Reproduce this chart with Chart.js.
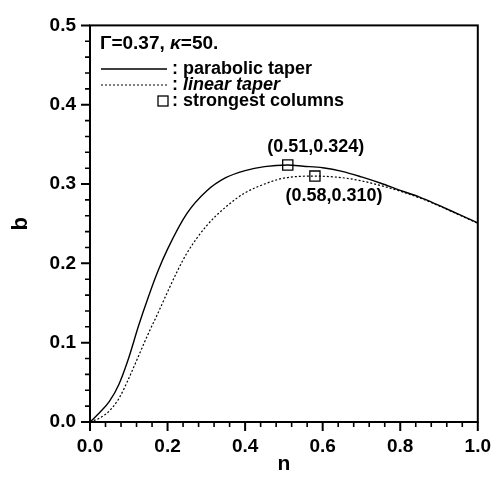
<!DOCTYPE html>
<html>
<head>
<meta charset="utf-8">
<script src="https://cdn.jsdelivr.net/npm/chart.js@4.4.1/dist/chart.umd.min.js"></script>
<style>
  html, body { margin: 0; padding: 0; background: #fff; }
  #wrap { width: 504px; height: 481px; position: relative; }
</style>
</head>
<body>
<div id="wrap"><canvas id="c" width="504" height="481"></canvas></div>
<script>
// ---- data ----
const nParabolic = [0, 0.025, 0.05, 0.075, 0.1, 0.125, 0.15, 0.175, 0.2, 0.25, 0.3, 0.35, 0.4, 0.45, 0.51, 0.55, 0.6, 0.65, 0.7, 0.75, 0.8, 0.85, 0.9, 0.95, 1.0];
const bParabolic = [0, 0.012, 0.026, 0.048, 0.081, 0.121, 0.157, 0.19, 0.218, 0.263, 0.291, 0.308, 0.317, 0.322, 0.324, 0.3225, 0.3205, 0.316, 0.309, 0.301, 0.292, 0.2835, 0.273, 0.262, 0.251];
const nLinear = [0, 0.025, 0.05, 0.075, 0.1, 0.125, 0.15, 0.175, 0.2, 0.225, 0.25, 0.3, 0.35, 0.4, 0.45, 0.5, 0.58, 0.65, 0.7, 0.75, 0.8, 0.85, 0.9, 0.95, 1.0];
const bLinear = [0, 0.005, 0.014, 0.030, 0.055, 0.083, 0.111, 0.137, 0.164, 0.19, 0.213, 0.247, 0.271, 0.289, 0.300, 0.3075, 0.310, 0.308, 0.304, 0.298, 0.291, 0.2825, 0.2725, 0.2615, 0.2505];
const nStrongest = [0.51, 0.58];
const bStrongest = [0.324, 0.310];
const strongestLabels = ['(0.51,0.324)', '(0.58,0.310)'];
const xMajorTicks = [0, 0.2, 0.4, 0.6, 0.8, 1.0];
const xMinorTicks = [0.04, 0.08, 0.12, 0.16, 0.24, 0.28, 0.32, 0.36, 0.44, 0.48, 0.52, 0.56, 0.64, 0.68, 0.72, 0.76, 0.84, 0.88, 0.92, 0.96];
const yMajorTicks = [0, 0.1, 0.2, 0.3, 0.4, 0.5];
const yMinorTicks = [0.02, 0.04, 0.06, 0.08, 0.12, 0.14, 0.16, 0.18, 0.22, 0.24, 0.26, 0.28, 0.32, 0.34, 0.36, 0.38, 0.42, 0.44, 0.46, 0.48];
const legendTitle = ['Γ=0.37, ', 'κ', '=50.'];
const legendLabels = [': parabolic taper', ': linear taper', ': strongest columns'];

const FONT = '"Liberation Sans", Arial, Helvetica, sans-serif';
const zip = (xs, ys) => xs.map((x, i) => ({ x, y: ys[i] }));

const framePlugin = {
  id: 'frame',
  afterDraw(chart) {
    const { ctx, chartArea: a, scales: { x, y } } = chart;
    ctx.save();
    ctx.strokeStyle = '#000';
    ctx.lineWidth = 2;
    ctx.strokeRect(a.left, a.top, a.right - a.left, a.bottom - a.top);
    ctx.beginPath();
    xMajorTicks.forEach(v => { const p = x.getPixelForValue(v); ctx.moveTo(p, a.bottom); ctx.lineTo(p, a.bottom + 9); });
    yMajorTicks.forEach(v => { const p = y.getPixelForValue(v); ctx.moveTo(a.left, p); ctx.lineTo(a.left - 9, p); });
    ctx.stroke();
    ctx.lineWidth = 1.6;
    ctx.beginPath();
    xMinorTicks.forEach(v => { const p = x.getPixelForValue(v); ctx.moveTo(p, a.bottom); ctx.lineTo(p, a.bottom + 5); });
    yMinorTicks.forEach(v => { const p = y.getPixelForValue(v); ctx.moveTo(a.left, p); ctx.lineTo(a.left - 5, p); });
    ctx.stroke();

    // point annotations
    ctx.fillStyle = '#000';
    ctx.font = 'bold 18px ' + FONT;
    ctx.textAlign = 'center';
    const p0x = x.getPixelForValue(nStrongest[0]), p0y = y.getPixelForValue(bStrongest[0]);
    ctx.textBaseline = 'alphabetic';
    ctx.fillText(strongestLabels[0], p0x + 28, p0y - 13);
    const p1x = x.getPixelForValue(nStrongest[1]), p1y = y.getPixelForValue(bStrongest[1]);
    ctx.textBaseline = 'top';
    ctx.fillText(strongestLabels[1], p1x + 19, p1y + 11);

    // legend
    const LF = 18;
    ctx.textAlign = 'left';
    ctx.textBaseline = 'middle';
    let tx = 100;
    const ty = 44;
    ctx.font = 'bold 19px ' + FONT;
    ctx.fillText(legendTitle[0], tx, ty); tx += ctx.measureText(legendTitle[0]).width;
    ctx.font = 'italic bold 19px ' + FONT;
    ctx.fillText(legendTitle[1], tx, ty); tx += ctx.measureText(legendTitle[1]).width;
    ctx.font = 'bold 19px ' + FONT;
    ctx.fillText(legendTitle[2], tx, ty);

    const rows = [69, 85, 101];
    ctx.lineWidth = 1.3;
    ctx.beginPath(); ctx.moveTo(101, rows[0]); ctx.lineTo(167, rows[0]); ctx.stroke();
    ctx.lineWidth = 1.2;
    ctx.setLineDash([2, 2]);
    ctx.beginPath(); ctx.moveTo(101, rows[1]); ctx.lineTo(167, rows[1]); ctx.stroke();
    ctx.setLineDash([]);
    ctx.lineWidth = 1.3;
    ctx.strokeRect(158, rows[2] - 5, 10, 10);

    ctx.font = 'bold ' + LF + 'px ' + FONT;
    ctx.fillText(legendLabels[0], 172, rows[0]);
    ctx.fillText(':', 172, rows[1]);
    const cw = ctx.measureText(': ').width;
    ctx.font = 'italic bold ' + LF + 'px ' + FONT;
    ctx.fillText(legendLabels[1].slice(2), 172 + cw, rows[1]);
    ctx.font = 'bold ' + LF + 'px ' + FONT;
    ctx.fillText(legendLabels[2], 172, rows[2]);
    ctx.restore();
  }
};

new Chart(document.getElementById('c'), {
  type: 'line',
  data: {
    datasets: [
      {
        label: 'parabolic taper',
        data: zip(nParabolic, bParabolic),
        borderColor: '#000', borderWidth: 1.4,
        pointRadius: 0, cubicInterpolationMode: 'monotone', fill: false
      },
      {
        label: 'linear taper',
        data: zip(nLinear, bLinear),
        borderColor: '#000', borderWidth: 1.2, borderDash: [2, 2],
        pointRadius: 0, cubicInterpolationMode: 'monotone', fill: false
      },
      {
        label: 'strongest columns',
        data: zip(nStrongest, bStrongest),
        showLine: false,
        pointStyle: 'rect', pointRadius: 7.2, pointBorderWidth: 1.3,
        pointBorderColor: '#000', pointBackgroundColor: 'rgba(0,0,0,0)'
      }
    ]
  },
  options: {
    responsive: false,
    animation: false,
    events: [],
    layout: { padding: { left: 0, right: 15, top: 21, bottom: 0 } },
    plugins: { legend: { display: false }, tooltip: { enabled: false } },
    scales: {
      x: {
        type: 'linear', min: 0, max: 1.0,
        border: { display: false },
        grid: { display: false, drawTicks: false },
        afterBuildTicks: s => { s.ticks = xMajorTicks.map(v => ({ value: v })); },
        afterFit: s => { s.height = 59; },
        ticks: {
          padding: 13, color: '#000',
          font: { family: FONT, size: 19, weight: 'bold' },
          callback: v => Number(v).toFixed(1)
        },
        title: {
          display: true, text: 'n', color: '#000', padding: { top: 0, bottom: 4 },
          font: { family: FONT, size: 21, weight: 'bold' }
        }
      },
      y: {
        type: 'linear', min: 0, max: 0.5,
        border: { display: false },
        grid: { display: false, drawTicks: false },
        afterBuildTicks: s => { s.ticks = yMajorTicks.map(v => ({ value: v })); },
        afterFit: s => { s.width = 90; },
        ticks: {
          padding: 14, color: '#000',
          font: { family: FONT, size: 19, weight: 'bold' },
          callback: v => Number(v).toFixed(1)
        },
        title: {
          display: true, text: 'b', color: '#000', padding: { top: 8, bottom: 0 },
          font: { family: FONT, size: 22, weight: 'bold' }
        }
      }
    }
  },
  plugins: [framePlugin]
});
</script>
</body>
</html>
